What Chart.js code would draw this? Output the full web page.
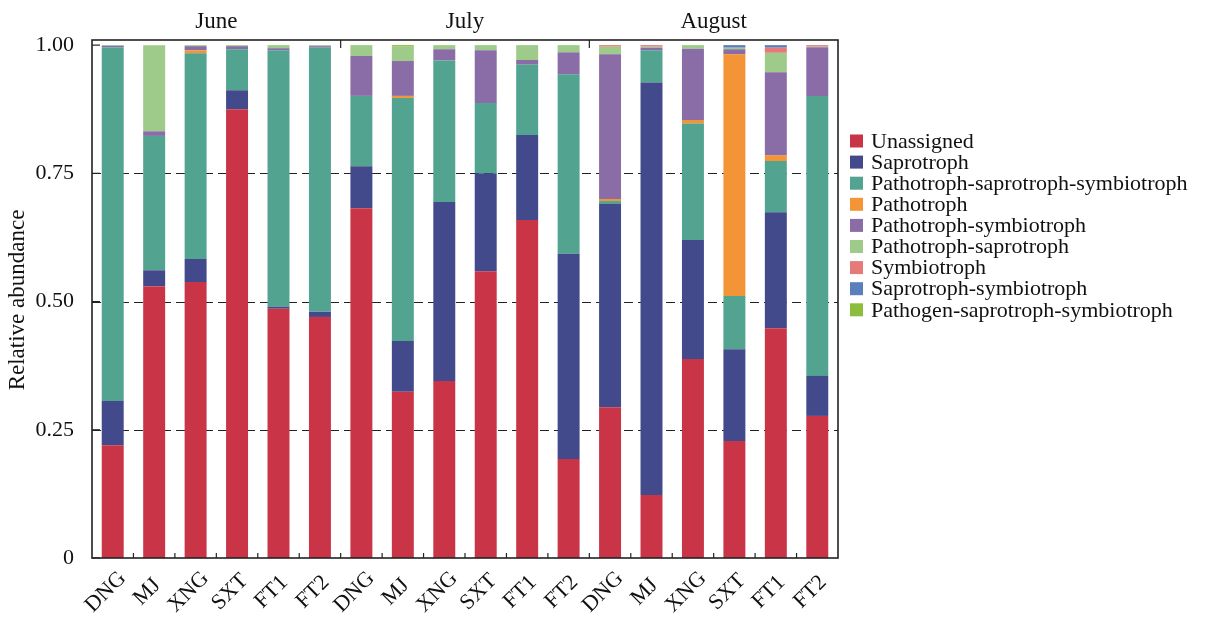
<!DOCTYPE html>
<html>
<head>
<meta charset="utf-8">
<script src="https://cdn.jsdelivr.net/npm/chart.js@4"></script>
<style>
  html, body { margin: 0; padding: 0; background: #fff; }
  #wrap { width: 1227px; height: 618px; }
</style>
</head>
<body>
<div id="wrap"><canvas id="chart" width="1227" height="618"></canvas></div>
<script>
const sites = ["DNG", "MJ", "XNG", "SXT", "FT1", "FT2"];
const months = ["June", "July", "August"];
const categories = months.flatMap(() => sites);
const yTicks = [0, 0.25, 0.5, 0.75, 1.0];

const unassigned = [0.220, 0.530, 0.538, 0.875, 0.486, 0.470, 0.682, 0.324, 0.345, 0.559, 0.659, 0.193, 0.294, 0.123, 0.388, 0.228, 0.448, 0.277];
const saprotroph = [0.086, 0.031, 0.045, 0.037, 0.004, 0.010, 0.082, 0.099, 0.349, 0.191, 0.166, 0.400, 0.396, 0.804, 0.232, 0.179, 0.226, 0.078];
const pathSapSym = [0.690, 0.262, 0.401, 0.080, 0.500, 0.515, 0.137, 0.474, 0.276, 0.137, 0.137, 0.350, 0.006, 0.063, 0.227, 0.104, 0.100, 0.546];
const pathotroph = [0, 0, 0.006, 0, 0, 0, 0, 0.004, 0, 0, 0, 0, 0.004, 0, 0.007, 0.471, 0.011, 0];
const pathSym = [0.003, 0.009, 0.008, 0.006, 0.004, 0.003, 0.078, 0.068, 0.022, 0.103, 0.009, 0.043, 0.282, 0.005, 0.139, 0.010, 0.162, 0.095];
const pathSap = [0.001, 0.168, 0.002, 0.002, 0.006, 0.002, 0.021, 0.028, 0.008, 0.010, 0.029, 0.014, 0.015, 0.002, 0.007, 0.003, 0.038, 0.001];
const symbiotroph = [0, 0, 0, 0, 0, 0, 0, 0, 0, 0, 0, 0, 0.003, 0.003, 0, 0, 0.010, 0.003];
const sapSym = [0, 0, 0, 0, 0, 0, 0, 0, 0, 0, 0, 0, 0, 0, 0, 0.005, 0.005, 0];
const pathogenSapSym = [0, 0, 0, 0, 0, 0, 0, 0.003, 0, 0, 0, 0, 0, 0, 0, 0, 0, 0];

const seriesNames = ["Unassigned", "Saprotroph", "Pathotroph-saprotroph-symbiotroph", "Pathotroph",
  "Pathotroph-symbiotroph", "Pathotroph-saprotroph", "Symbiotroph", "Saprotroph-symbiotroph",
  "Pathogen-saprotroph-symbiotroph"];
const seriesData = [unassigned, saprotroph, pathSapSym, pathotroph, pathSym, pathSap, symbiotroph, sapSym, pathogenSapSym];
const seriesColors = ["#c93547", "#434a8b", "#52a491", "#f39537", "#8a6da6", "#9ecb8a", "#e57a78", "#5b7fba", "#8cbd3c"];

const FONT = "'Liberation Serif', 'DejaVu Serif', serif";

// frame, dashed grid, ticks, labels, legend
const decor = {
  id: "decor",
  beforeDatasetsDraw(chart) {
    const { ctx, chartArea: a, scales: { y } } = chart;
    ctx.save();
    ctx.strokeStyle = "#222";
    ctx.lineWidth = 1.2;
    ctx.setLineDash([9, 5]);
    [0.25, 0.5, 0.75].forEach(v => {
      const py = Math.round(y.getPixelForValue(v)) + 0.5;
      ctx.beginPath(); ctx.moveTo(a.left, py); ctx.lineTo(a.right, py); ctx.stroke();
    });
    ctx.restore();
  },
  afterDraw(chart) {
    const { ctx, chartArea: a, scales: { x, y } } = chart;
    ctx.save();
    ctx.strokeStyle = "#222";
    ctx.lineWidth = 1.6;
    ctx.strokeRect(a.left, a.top, a.right - a.left, a.bottom - a.top);
    ctx.lineWidth = 1.2;
    // y ticks inward
    yTicks.forEach(v => {
      const py = y.getPixelForValue(v);
      ctx.beginPath(); ctx.moveTo(a.left, py); ctx.lineTo(a.left + 8, py); ctx.stroke();
    });
    // x ticks at category boundaries
    const step = (a.right - a.left) / categories.length;
    for (let i = 1; i < categories.length; i++) {
      const px = a.left + i * step;
      ctx.beginPath(); ctx.moveTo(px, a.bottom); ctx.lineTo(px, a.bottom - 5); ctx.stroke();
    }
    // month separators at top
    for (let m = 1; m < months.length; m++) {
      const px = a.left + m * sites.length * step;
      ctx.beginPath(); ctx.moveTo(px, a.top); ctx.lineTo(px, a.top + 8); ctx.stroke();
    }
    ctx.fillStyle = "#111";
    // x labels, rotated 45deg
    ctx.font = "22px " + FONT;
    ctx.textAlign = "center";
    ctx.textBaseline = "middle";
    categories.forEach((c, i) => {
      ctx.save();
      ctx.translate(x.getPixelForValue(i) - 7, 592);
      ctx.rotate(-Math.PI / 4);
      ctx.fillText(c, 0, 0);
      ctx.restore();
    });
    // y title
    ctx.save();
    ctx.font = "23px " + FONT;
    ctx.translate(18, 300);
    ctx.rotate(-Math.PI / 2);
    ctx.fillText("Relative abundance", 0, 0);
    ctx.restore();
    // month labels
    ctx.font = "23px " + FONT;
    ctx.textBaseline = "alphabetic";
    months.forEach((m, i) => {
      const px = a.left + (i * sites.length + sites.length / 2) * step;
      ctx.fillText(m, px, 28);
    });
    // legend
    ctx.font = "22px " + FONT;
    ctx.textAlign = "left";
    ctx.textBaseline = "middle";
    seriesNames.forEach((name, i) => {
      const cy = 141 + i * 21.1;
      ctx.fillStyle = seriesColors[i];
      ctx.fillRect(850, cy - 6.5, 13, 13);
      ctx.fillStyle = "#111";
      ctx.fillText(name, 871, cy + 1);
    });
    ctx.restore();
  }
};

new Chart(document.getElementById("chart"), {
  type: "bar",
  data: {
    labels: categories,
    datasets: seriesData.map((d, i) => ({
      label: seriesNames[i],
      data: d,
      backgroundColor: seriesColors[i],
      borderWidth: 0,
      barPercentage: 0.53,
      categoryPercentage: 1.0
    }))
  },
  options: {
    responsive: false,
    animation: false,
    devicePixelRatio: 1,
    layout: { padding: { top: 40, right: 389, left: 0, bottom: 0 } },
    plugins: { legend: { display: false }, tooltip: { enabled: false } },
    scales: {
      x: {
        stacked: true,
        grid: { display: false },
        border: { display: false },
        ticks: { display: false },
        afterFit: s => { s.height = 60; }
      },
      y: {
        stacked: true,
        min: 0,
        max: 1.01,
        grid: { display: false },
        border: { display: false },
        afterBuildTicks: s => { s.ticks = yTicks.map(v => ({ value: v })); },
        ticks: {
          color: "#111",
          font: { family: FONT, size: 22 },
          padding: 10,
          callback: v => v === 0 ? "0" : v.toFixed(2)
        },
        afterFit: s => { s.width = 92; }
      }
    }
  },
  plugins: [decor]
});
</script>
</body>
</html>
